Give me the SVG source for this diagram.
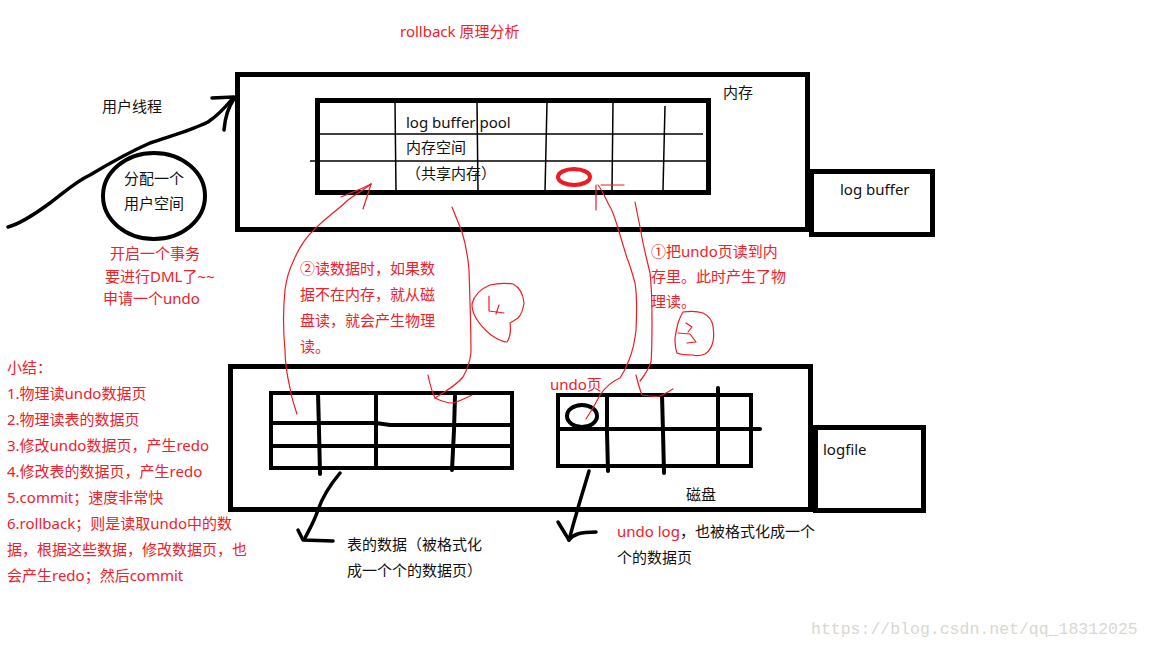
<svg xmlns="http://www.w3.org/2000/svg" width="1152" height="648" viewBox="0 0 1152 648">
<style>
text{font-family:"Noto Sans","Noto Sans CJK SC",sans-serif;font-size:15px;fill:#111}
.r{fill:#f0202a}
.box{fill:none;stroke:#000;stroke-width:5}
.g{fill:none;stroke:#000;stroke-width:4;stroke-linecap:round}
.thin{fill:none;stroke:#000;stroke-width:1.5}
.pen{fill:none;stroke:#ed1c24;stroke-width:1.2;stroke-linecap:round;stroke-linejoin:round}
.ink{fill:none;stroke:#000;stroke-width:3.5;stroke-linecap:round;stroke-linejoin:round}
.wm{font-family:"Liberation Mono","DejaVu Sans Mono",monospace;font-size:16.5px;fill:#d8d8d0}
</style>
<rect width="1152" height="648" fill="#fff"/>

<text class="r" x="400" y="37">rollback 原理分析</text>

<g id="memory">
  <rect class="box" x="237.5" y="74.5" width="570" height="155"/>
  <text x="723" y="98">内存</text>
</g>

<g id="log-buffer-pool">
  <line class="thin" x1="318" y1="134" x2="703" y2="134"/>
  <line class="thin" x1="310" y1="161" x2="706" y2="161"/>
  <line class="thin" x1="395" y1="102" x2="396" y2="192"/>
  <line class="thin" x1="477" y1="102" x2="478" y2="192"/>
  <line class="thin" x1="547" y1="102" x2="545" y2="192"/>
  <line class="thin" x1="613" y1="102" x2="612" y2="191"/>
  <line class="thin" x1="665" y1="106" x2="663" y2="190"/>
  <rect class="box" x="317.5" y="100.5" width="391" height="92"/>
  <text x="406" y="128">log buffer pool</text>
  <text x="406" y="153">内存空间</text>
  <text x="406" y="179">（共享内存）</text>
  <ellipse cx="574" cy="177" rx="16" ry="8" fill="none" stroke="#ed1c24" stroke-width="4"/>
</g>

<g id="log-buffer">
  <rect class="box" x="811.5" y="171.5" width="121" height="63"/>
  <text x="840" y="195">log buffer</text>
</g>

<g id="user-thread">
  <text x="102" y="112">用户线程</text>
</g>

<g id="user-space">
  <ellipse cx="154" cy="196" rx="51" ry="43" fill="none" stroke="#000" stroke-width="4"/>
  <text x="124" y="184">分配一个</text>
  <text x="124" y="209">用户空间</text>
  <text class="r" x="110" y="259">开启一个事务</text>
  <text class="r" x="105" y="282">要进行DML了~~</text>
  <text class="r" x="103" y="304">申请一个undo</text>
</g>

<g id="disk">
  <rect class="box" x="230.5" y="366.5" width="580" height="143"/>
  <text x="686" y="500">磁盘</text>
</g>

<g id="logfile">
  <rect class="box" x="815.5" y="427.5" width="108" height="83"/>
  <text x="823" y="455">logfile</text>
</g>

<g id="table-data">
  <rect class="g" x="271" y="393" width="241" height="75"/>
  <path class="g" d="M271,423 L376,423 L390,425 L512,425"/>
  <line class="g" x1="271" y1="446" x2="512" y2="446"/>
  <path class="g" d="M318,393 L319,430 L320,474"/>
  <line class="g" x1="376" y1="393" x2="376" y2="468"/>
  <path class="g" d="M455,396 L454,430 L452,470"/>
  <text x="347" y="550">表的数据（被格式化</text>
  <text x="347" y="576">成一个个的数据页）</text>
</g>

<g id="undo-page">
  <text class="r" x="550" y="390">undo页</text>
  <rect class="g" x="558" y="395" width="193" height="71"/>
  <line class="g" x1="558" y1="429" x2="760" y2="429"/>
  <path class="g" d="M607,395 L607,432 L608,471"/>
  <path class="g" d="M662,395 L663,432 L664,473"/>
  <line class="g" x1="718" y1="388" x2="718" y2="466"/>
  <ellipse cx="582" cy="416" rx="15" ry="11" fill="none" stroke="#000" stroke-width="4"/>
  <text x="617" y="537"><tspan class="r">undo log</tspan>，也被格式化成一个</text>
  <text x="617" y="563">个的数据页</text>
</g>

<g id="notes">
  <text class="r" x="300" y="274">②读数据时，如果数</text>
  <text class="r" x="300" y="300">据不在内存，就从磁</text>
  <text class="r" x="300" y="326">盘读，就会产生物理</text>
  <text class="r" x="300" y="352">读。</text>
  <text class="r" x="651" y="257">①把undo页读到内</text>
  <text class="r" x="651" y="282">存里。此时产生了物</text>
  <text class="r" x="651" y="307">理读。</text>
</g>

<g id="summary">
  <text class="r" x="7" y="373">小结：</text>
  <text class="r" x="7" y="399">1.物理读undo数据页</text>
  <text class="r" x="7" y="425">2.物理读表的数据页</text>
  <text class="r" x="7" y="451">3.修改undo数据页，产生redo</text>
  <text class="r" x="7" y="477">4.修改表的数据页，产生redo</text>
  <text class="r" x="7" y="503">5.commit；速度非常快</text>
  <text class="r" x="7" y="529">6.rollback；则是读取undo中的数</text>
  <text class="r" x="7" y="555">据，根据这些数据，修改数据页，也</text>
  <text class="r" x="7" y="581">会产生redo；然后commit</text>
</g>

<g id="connectors">
  <path class="ink" d="M8,227 C20,224 35,214 50,203 C65,192 75,182 90,175 C105,166 125,154 150,143 C170,136 190,131 208,122 C220,114 228,104 233,98"/>
  <path class="ink" d="M212,98 L234,97"/>
  <path class="ink" d="M224,130 C225,118 229,106 234,99"/>
  <path class="ink" d="M340,473 C330,485 322,498 318,510 C314,522 309,530 305,538"/>
  <path class="ink" d="M298,530 L303,540 L333,541"/>
  <path class="ink" d="M589,471 C585,485 580,500 576,515 C573,525 571,533 569,540"/>
  <path class="ink" d="M558,522 L569,540 C574,534 580,532 596,532"/>
  <path class="pen" d="M297,414 C294,405 291,396 290,388 C287,375 285,365 285,350 C283,330 283,310 285,290 C287,275 290,268 293,262 C300,245 308,235 315,229 C325,218 338,210 348,200 C358,193 365,189 371,184"/>
  <path class="pen" d="M341,197 C352,192 362,189 371,184"/>
  <path class="pen" d="M363,209 C366,200 369,191 371,184"/>
  <path class="pen" d="M452,207 C455,215 459,224 462,232 C466,245 468,258 469,270 C470,300 471,330 471,352 C470,362 467,370 463,377 C458,383 452,387 446,391 C441,394 437,397 435,398"/>
  <path class="pen" d="M428,375 C430,385 432,392 435,398 C441,401 447,403 453,403 C460,401 466,398 472,395"/>
  <path class="pen" d="M586,419 C590,413 595,405 600,395 C607,385 615,380 620,378 C624,372 627,366 629,360 C633,350 635,340 636,330 C637,310 637,295 635,283 C632,272 630,265 627,258 C623,245 620,235 617,225 C614,215 611,208 609,205 C605,197 602,190 598,185"/>
  <path class="pen" d="M596,185 L596,210"/>
  <path class="pen" d="M601,185 L624,185"/>
  <path class="pen" d="M635,202 C637,212 639,222 641,232 C643,245 647,260 650,273 C652,290 652,305 652,320 C652,335 652,350 651,362 C648,370 645,375 640,381"/>
  <path class="pen" d="M636,375 C638,383 640,390 642,395 C648,396 654,397 660,396 C665,394 669,391 673,389"/>
  <path class="pen" d="M472,304 C474,296 480,289 490,285 C498,283 506,283 513,284 C519,287 523,292 524,303 C523,310 521,315 518,318 C515,320 512,322 510,323 C511,330 511,336 507,342 C502,342 497,339 491,335 C485,330 480,325 476,318 C473,313 472,308 472,304 Z"/>
  <path class="pen" d="M489,296 L489,311 L504,313"/>
  <path class="pen" d="M499,305 L496,314"/>
  <path class="pen" d="M683,312 C690,311 697,311 703,313 C709,316 712,320 713,326 C714,333 714,340 712,345 C710,350 708,352 705,354 C700,356 696,356 693,355 C686,355 681,355 677,353 C675,348 675,343 675,338 C676,332 677,327 678,323 C680,318 681,315 683,312"/>
  <path class="pen" d="M686,323 L692,327 L688,332"/>
  <path class="pen" d="M678,333 L690,334 L696,342 L687,343"/>
</g>

<text class="wm" x="811" y="634">https://blog.csdn.net/qq_18312025</text>
</svg>
